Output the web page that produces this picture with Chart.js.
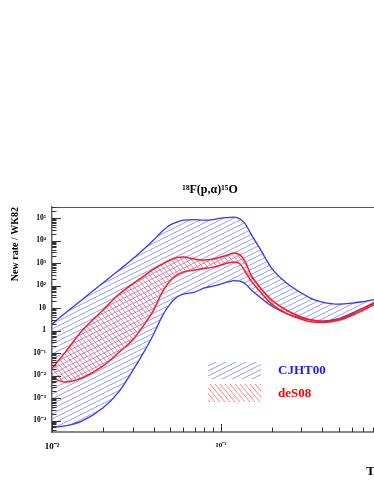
<!DOCTYPE html>
<html>
<head>
<meta charset="utf-8">
<script src="https://cdn.jsdelivr.net/npm/chart.js@4.4.1/dist/chart.umd.min.js"></script>
<style>
  html, body { margin: 0; padding: 0; background: #fff; overflow: hidden; }
</style>
</head>
<body>
<canvas id="myChart" width="420" height="485"></canvas>
<script>
// Temperatura T9 (GK)
const temperaturas = [0.01, 0.012, 0.015, 0.02, 0.025, 0.03, 0.035, 0.04, 0.045, 0.05, 0.055, 0.06, 0.07, 0.08, 0.09,
  0.1, 0.11, 0.12, 0.13, 0.14, 0.15, 0.17, 0.2, 0.25, 0.3, 0.35, 0.4, 0.5, 0.6, 0.7, 0.8, 1.0];

// Banda CJHT00 (limites superior e inferior)
const cjhtSuperior = [1.95, 6, 23, 130, 490, 1500, 4200, 10500, 26000, 49000, 66000, 81000, 86000, 81000, 86000,
  100000, 105000, 110000, 91000, 54000, 21500, 4600, 600, 117, 47, 25, 18.5, 15, 16.6, 19.5, 23, 28];
const cjhtInferior = [5.1e-5, 5.8e-5, 9.5e-5, 3.6e-4, 2.0e-3, 0.016, 0.11, 0.69, 4.4, 15, 31, 42, 51, 78, 95,
  117, 144, 166, 158, 117, 69, 31, 12.3, 5.4, 3.6, 2.9, 2.65, 3.4, 6, 10, 15, 28];

// Banda deS08 (limites superior e inferior)
const des08Superior = [0.021, 0.11, 0.95, 8, 42, 117, 265, 540, 900, 1360, 1750, 1850, 1500, 1360, 1500,
  1850, 2300, 2800, 2300, 1100, 325, 86, 23, 7.4, 4, 2.9, 2.5, 3.2, 5.4, 10, 17, 34];
const des08Inferior = [0.0078, 0.0052, 0.0078, 0.026, 0.11, 0.38, 1.75, 8, 51, 158, 295, 400, 490, 575, 660,
  810, 1000, 1100, 910, 400, 175, 57, 15, 5.4, 3.2, 2.4, 2.3, 2.9, 4.7, 8.2, 13.5, 28];

const etiquetas = ['CJHT00', 'deS08'];

const fuente = "'Liberation Serif', 'Times New Roman', serif";

// Patrones de rayado
function crearRayado(ancho, alto, color, pendiente) {
  const c = document.createElement('canvas');
  c.width = ancho;
  c.height = alto;
  const g = c.getContext('2d');
  g.strokeStyle = color;
  g.lineWidth = 1;
  for (let k = -2; k <= 2; k++) {
    g.beginPath();
    if (pendiente > 0) {
      // "/" linea subiendo a la derecha
      g.moveTo(-ancho, alto + alto + k * alto);
      g.lineTo(2 * ancho, -alto + k * alto);
    } else {
      // "\" linea bajando a la derecha
      g.moveTo(-ancho, -alto + k * alto);
      g.lineTo(2 * ancho, 2 * alto + k * alto);
    }
    g.stroke();
  }
  return g.createPattern(c, 'repeat');
}

const rayadoAzul = crearRayado(10, 5, 'rgba(90, 90, 255, 0.6)', 1);
const rayadoRojo = crearRayado(5, 6, 'rgba(255, 90, 90, 0.75)', -1);

const sup = { '-': '\u207B', '0': '\u2070', '1': '\u00B9', '2': '\u00B2', '3': '\u00B3', '4': '\u2074',
  '5': '\u2075', '6': '\u2076', '7': '\u2077', '8': '\u2078', '9': '\u2079' };

function potencia(valor) {
  const e = Math.log10(valor);
  if (Math.abs(e - Math.round(e)) > 1e-6) return '';
  const n = Math.round(e);
  if (n === 0) return '1';
  if (n === 1) return '10';
  return '10' + String(n).split('').map(c => sup[c]).join('');
}

function esEntero(valor) {
  const e = Math.floor(Math.log10(valor) + 1e-9);
  const m = valor / Math.pow(10, e);
  return Math.abs(m - Math.round(m)) < 1e-6;
}

function esMayor(valor) {
  const e = Math.log10(valor);
  return Math.abs(e - Math.round(e)) < 1e-6;
}

// Marco, marcas interiores y leyenda
const extras = {
  id: 'extras',
  afterDatasetsDraw(chart) {
    const { ctx, chartArea: a, scales } = chart;
    ctx.save();
    // linea superior del marco
    ctx.strokeStyle = '#555';
    ctx.lineWidth = 1.2;
    ctx.beginPath();
    ctx.moveTo(a.left, a.top + 0.5);
    ctx.lineTo(a.right, a.top + 0.5);
    ctx.stroke();

    ctx.strokeStyle = '#333';
    ctx.lineWidth = 1;
    scales.y.ticks.forEach(t => {
      if (!esEntero(t.value)) return;
      const y = Math.round(scales.y.getPixelForValue(t.value)) + 0.5;
      const largo = esMayor(t.value) ? 9 : 4.5;
      ctx.beginPath();
      ctx.moveTo(a.left, y);
      ctx.lineTo(a.left + largo, y);
      ctx.stroke();
    });
    scales.x.ticks.forEach(t => {
      if (!esEntero(t.value)) return;
      const x = Math.round(scales.x.getPixelForValue(t.value)) + 0.5;
      const largo = esMayor(t.value) ? 8 : 4.5;
      ctx.beginPath();
      ctx.moveTo(x, a.bottom);
      ctx.lineTo(x, a.bottom - largo);
      ctx.stroke();
    });

    // leyenda
    const lx = a.left + 156;
    const ly = a.top + 155;
    ctx.fillStyle = rayadoAzul;
    ctx.fillRect(lx, ly, 53, 17);
    ctx.fillStyle = rayadoRojo;
    ctx.fillRect(lx, ly + 22, 53, 18);
    ctx.font = 'bold 13px ' + fuente;
    ctx.textBaseline = 'middle';
    ctx.fillStyle = '#1a1aff';
    ctx.fillText(etiquetas[0], lx + 70, ly + 9);
    ctx.fillStyle = '#ff0000';
    ctx.fillText(etiquetas[1], lx + 70, ly + 32);
    ctx.restore();
  }
};

const ctx = document.getElementById('myChart').getContext('2d');
const myChart = new Chart(ctx, {
  type: 'line',
  data: {
    labels: temperaturas,
    datasets: [
      { label: etiquetas[0], data: cjhtSuperior, borderColor: '#3535ff', borderWidth: 1.3, backgroundColor: rayadoAzul, fill: '+1', order: 2 },
      { label: etiquetas[0] + ' inf', data: cjhtInferior, borderColor: '#3535ff', borderWidth: 1.3, fill: false, order: 2 },
      { label: etiquetas[1], data: des08Superior, borderColor: '#ff1a1a', borderWidth: 1.5, backgroundColor: rayadoRojo, fill: '+1', order: 1 },
      { label: etiquetas[1] + ' inf', data: des08Inferior, borderColor: '#ff1a1a', borderWidth: 1.5, fill: false, order: 1 }
    ].map(d => Object.assign(d, {
      data: d.data.map((v, i) => ({ x: temperaturas[i], y: v })),
      pointRadius: 0,
      cubicInterpolationMode: 'monotone'
    }))
  },
  options: {
    responsive: false,
    animation: false,
    devicePixelRatio: 1,
    layout: { padding: 0 },
    plugins: {
      legend: { display: false },
      tooltip: { enabled: false },
      title: {
        display: true,
        text: '\u00B9\u2078F(p,\u03B1)\u00B9\u2075O',
        color: '#000',
        font: { family: fuente, size: 12, weight: 'bold' },
        padding: { top: 183, bottom: 9.6 }
      }
    },
    scales: {
      x: {
        type: 'logarithmic',
        min: 0.01,
        max: 1.34,
        afterFit: s => { s.height = 53; },
        grid: { display: true, drawOnChartArea: false, drawTicks: false },
        border: { display: true, color: '#888', width: 2 },
        ticks: {
          autoSkip: false,
          maxRotation: 0,
          padding: 9,
          color: '#000',
          font: c => ({ family: fuente, weight: 'bold', size: (c.tick && Math.abs(c.tick.value - 0.1) < 1e-9) ? 7 : 9 }),
          callback: v => potencia(v)
        },
        title: {
          display: true,
          text: 'T\u2089 (GK)',
          align: 'end',
          color: '#000',
          font: { family: fuente, size: 13, weight: 'bold' },
          padding: { top: 0, bottom: 6 }
        }
      },
      y: {
        type: 'logarithmic',
        min: 3.1e-5,
        max: 3.1e5,
        afterFit: s => { s.width = 52; },
        grid: { display: true, drawOnChartArea: false, drawTicks: false },
        border: { display: true, color: '#666', width: 1.5 },
        ticks: {
          autoSkip: false,
          padding: 6,
          color: '#000',
          font: { family: fuente, weight: 'bold', size: 7.5 },
          callback: v => potencia(v)
        },
        title: {
          display: true,
          text: 'New rate / WK82',
          align: 'end',
          color: '#000',
          font: { family: fuente, size: 10, weight: 'bold' },
          padding: { top: 9, bottom: 0 }
        }
      }
    }
  },
  plugins: [extras]
});
</script>
</body>
</html>
